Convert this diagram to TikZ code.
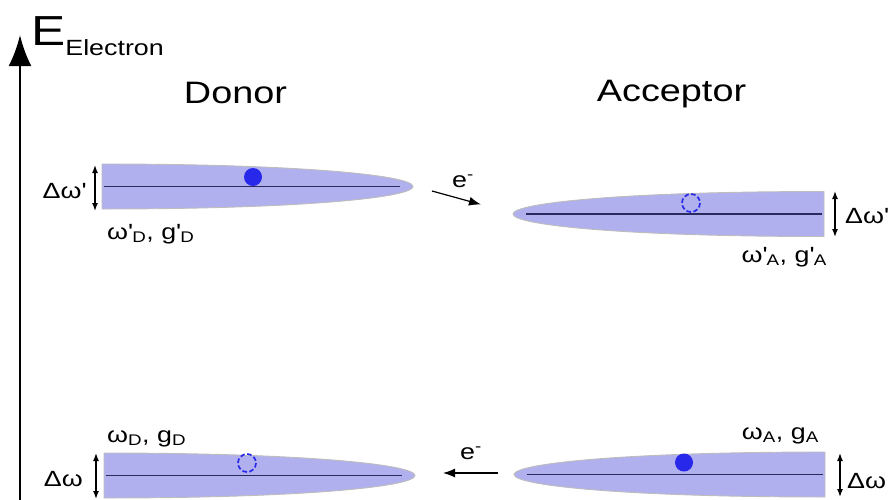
\documentclass[tikz,border=0pt]{standalone}
\usepackage{fontspec}
\setmainfont{Liberation Sans}[FakeStretch=1.22]
\usetikzlibrary{arrows.meta}
\definecolor{bandfill}{HTML}{B0B0EE}
\definecolor{bandedge}{HTML}{BDBDBD}
\definecolor{level}{HTML}{2A2A5C}
\definecolor{elec}{HTML}{2828EA}
\newcommand{\pr}{\textquotesingle}

\begin{document}
\begin{tikzpicture}[x=1pt,y=-1pt,
  band/.style={fill=bandfill,draw=bandedge,line width=0.9pt},
  lvl/.style={draw=level,line width=1.3pt},
  full/.style={fill=elec},
  hole/.style={draw=elec,line width=1.7pt,dash pattern=on 4.6pt off 2.45pt},
  width/.style={{Latex[length=8pt,width=6pt]}-{Latex[length=8pt,width=6pt]},line width=1.4pt},
  hop/.style={-{Latex[length=12pt,width=9pt]},line width=1.2pt},
  big/.style={font=\fontsize{31}{31}\selectfont,inner sep=0pt},
  lab/.style={font=\fontsize{22}{22}\selectfont,inner sep=0pt}]
  \useasboundingbox (0,0) rectangle (893,499);

  % energy axis
  \draw[-{Latex[length=31pt,width=23pt]},line width=2.6pt] (20,505) coordinate (axis0) -- (20,35) coordinate (axis1);
  \node[inner sep=0pt,anchor=base west] (ttl) at (31,45)
    {\fontsize{42}{42}\selectfont E\raisebox{-10pt}{\fontsize{22}{22}\selectfont Electron}};
  \node[big,anchor=base] (donor) at (235.5,103) {Donor};
  \node[big,anchor=base] (acceptor) at (671.5,101) {Acceptor};

  % bands
  \foreach \x/\y/\s in {102/186.5/1, 824/214/-1, 104/475.5/1, 825/474.5/-1}{
    \begin{scope}[shift={(\x,\y)},xscale=\s]
      \draw[band] (0,-22.5) .. controls (200,-22.5) and (311,-11) .. (311,0)
        .. controls (311,11) and (200,22.5) .. (0,22.5) -- cycle;
      \draw[lvl] (2,0) -- (298,0);
    \end{scope}
  }

  % electrons and holes
  \fill[full] (253,177) circle (9);
  \draw[hole] (691,203) circle (9);
  \draw[hole] (247,463) circle (9);
  \fill[full] (684,462.5) circle (9);

  % widths
  \foreach \n/\x/\a/\b in {dh/95/165/211, ah/835/191/237, dl/96/453/499, al/840/453/497}{
    \draw[width] (\x,\a) coordinate (\n-t) -- (\x,\b) coordinate (\n-b);
  }
  \node[lab,anchor=base east] (wdh) at (86,198) {Δω\pr};
  \node[lab,anchor=base west] (wah) at (845,223) {Δω\pr};
  \node[lab,anchor=base east] (wdl) at (83,486) {Δω};
  \node[lab,anchor=base west] (wal) at (847,488) {Δω};

  % level labels
  \node[lab,anchor=base west] (ldh) at (107,239) {ω\pr\textsubscript{D}, g\pr\textsubscript{D}};
  \node[lab,anchor=base east] (lah) at (827,262) {ω\pr\textsubscript{A}, g\pr\textsubscript{A}};
  \node[lab,anchor=base west] (ldl) at (107,442) {ω\textsubscript{D}, g\textsubscript{D}};
  \node[lab,anchor=base east] (lal) at (819,439) {ω\textsubscript{A}, g\textsubscript{A}};

  % transfer
  \coordinate (h0) at (432,191);
  \coordinate (h1) at (481,204.5);
  \draw[hop] (h0) -- (h1);
  \node[lab,anchor=base] (eh) at (463,187) {e\textsuperscript{-}};
  \coordinate (l0) at (498,473);
  \coordinate (l1) at (443,473);
  \draw[hop] (l0) -- (l1);
  \node[lab,anchor=base] (el) at (471,459) {e\textsuperscript{-}};
\end{tikzpicture}
\end{document}
